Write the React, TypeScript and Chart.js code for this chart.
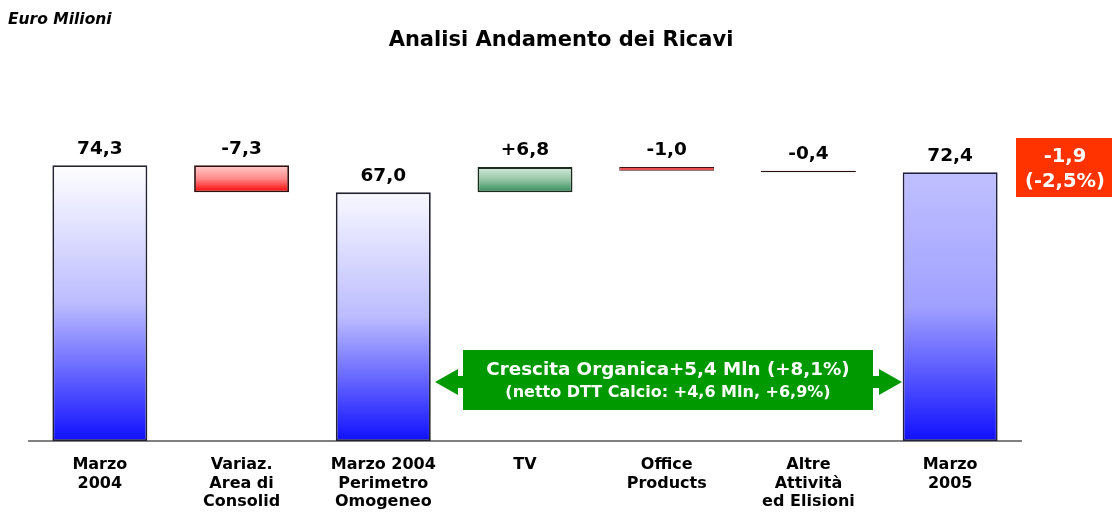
import React, { useEffect, useRef } from 'react';
import { Chart, registerables } from 'chart.js';

Chart.register(...registerables);

const categories: string[][] = [
  ['Marzo', '2004'],
  ['Variaz.', 'Area di', 'Consolid'],
  ['Marzo 2004', 'Perimetro', 'Omogeneo'],
  ['TV'],
  ['Office', 'Products'],
  ['Altre', 'Attività', 'ed Elisioni'],
  ['Marzo', '2005'],
];
const barStart = [0, 67.0, 0, 67.0, 72.8, 72.4, 0];
const barEnd = [74.3, 74.3, 67.0, 73.8, 73.8, 72.8, 72.4];
const valueLabels = ['74,3', '-7,3', '67,0', '+6,8', '-1,0', '-0,4', '72,4'];

const titleText = 'Analisi Andamento dei Ricavi';
const unitText = 'Euro Milioni';
const totalDeltaLines = ['-1,9', '(-2,5%)'];
const organicLines = ['Crescita Organica+5,4 Mln (+8,1%)', '(netto DTT Calcio: +4,6 Mln, +6,9%)'];

// styles
const gradTop = ['#ffffff', '#ffcccc', '#f8f8ff', '#d6eadd', '#e85050', '#7a0000', '#c0c0ff'];
const gradMid = ['#bcbcff', '#ff8a8a', '#bcbcff', '#94c6a6', '#e85050', '#7a0000', '#a0a0ff'];
const gradBot = ['#1010ff', '#ff0000', '#1010ff', '#2e8b57', '#e85050', '#7a0000', '#1010ff'];
const borderCols = ['#222230', '#301010', '#222230', '#1c2c1c', '#401414', '#2a1010', '#222240'];
const borderWidths = [1.8, 1.8, 1.8, 1.8, 0.9, 1.8, 1.8];

const FONT = '"DejaVu Sans", Verdana, sans-serif';

const overlayPlugin = {
  id: 'overlay',
  afterDatasetsDraw(chart: any) {
    const ctx: CanvasRenderingContext2D = chart.ctx;
    const meta = chart.getDatasetMeta(0);
    ctx.save();
    ctx.textAlign = 'center';
    ctx.textBaseline = 'middle';
    ctx.fillStyle = '#000';
    ctx.font = `bold 18.5px ${FONT}`;
    meta.data.forEach((el: any, i: number) => {
      const top = Math.min(el.y, el.base);
      ctx.fillText(valueLabels[i], el.x, top - 16.5);
    });

    // unit text
    ctx.textAlign = 'left';
    ctx.font = `italic bold 15.5px ${FONT}`;
    ctx.fillText(unitText, 8, 20);

    // title
    ctx.textAlign = 'center';
    ctx.font = `bold 21px ${FONT}`;
    ctx.fillText(titleText, 561, 41);

    // red delta box
    ctx.fillStyle = '#ff3300';
    ctx.fillRect(1016, 138, 96, 59);
    ctx.fillStyle = '#ffffff';
    ctx.font = `bold 19.5px ${FONT}`;
    ctx.fillText(totalDeltaLines[0], 1065, 157);
    ctx.fillText(totalDeltaLines[1], 1065, 182);

    // green organic growth box with arrows
    ctx.fillStyle = '#009900';
    ctx.fillRect(463, 350, 410, 60);
    ctx.beginPath();
    ctx.moveTo(435, 382);
    ctx.lineTo(458, 369);
    ctx.lineTo(458, 376);
    ctx.lineTo(464, 376);
    ctx.lineTo(464, 388);
    ctx.lineTo(458, 388);
    ctx.lineTo(458, 395);
    ctx.closePath();
    ctx.fill();
    ctx.beginPath();
    ctx.moveTo(902, 382);
    ctx.lineTo(879, 369);
    ctx.lineTo(879, 376);
    ctx.lineTo(872, 376);
    ctx.lineTo(872, 388);
    ctx.lineTo(879, 388);
    ctx.lineTo(879, 395);
    ctx.closePath();
    ctx.fill();
    ctx.fillStyle = '#ffffff';
    ctx.font = `bold 18.3px ${FONT}`;
    ctx.fillText(organicLines[0], 668, 370);
    ctx.font = `bold 16px ${FONT}`;
    ctx.fillText(organicLines[1], 668, 393);
    ctx.restore();
  },
};

export default function App() {
  const ref = useRef<HTMLCanvasElement | null>(null);
  useEffect(() => {
    if (!ref.current) return;
    const chart = new Chart(ref.current, {
      type: 'bar',
      data: {
        labels: categories,
        datasets: [
          {
            data: barStart.map((s, i) => [s, barEnd[i]]) as any,
            backgroundColor: (c: any) => {
              const i = c.dataIndex;
              const ch = c.chart;
              const ys = ch.scales && ch.scales.y;
              if (i === undefined || !ys || !ch.chartArea) return gradBot[i ?? 0];
              const top = ys.getPixelForValue(barEnd[i]);
              const bottom = ys.getPixelForValue(barStart[i]);
              if (!isFinite(top) || !isFinite(bottom) || bottom - top < 1) return gradBot[i];
              const g = ch.ctx.createLinearGradient(0, top, 0, bottom);
              g.addColorStop(0, gradTop[i]);
              g.addColorStop(0.5, gradMid[i]);
              g.addColorStop(1, gradBot[i]);
              return g;
            },
            borderColor: borderCols,
            borderWidth: borderWidths,
            borderSkipped: false,
            barPercentage: 0.67,
            categoryPercentage: 1,
          },
        ],
      },
      options: {
        responsive: false,
        animation: false,
        layout: { padding: { left: 29, right: 91, top: 107, bottom: 0 } },
        plugins: {
          legend: { display: false },
          tooltip: { enabled: false },
          title: { display: false },
        },
        scales: {
          y: { display: false, min: 0, max: 90 },
          x: {
            grid: { display: false, drawTicks: false },
            border: { display: true, color: '#808080', width: 2 },
            ticks: {
              color: '#000',
              font: { family: FONT, weight: 'bold', size: 16, lineHeight: 1.17 },
              padding: 14.5,
              maxRotation: 0,
              minRotation: 0,
              autoSkip: false,
            },
            afterFit: (s: any) => {
              s.height = 71;
            },
          },
        },
      },
      plugins: [overlayPlugin],
    });
    return () => chart.destroy();
  }, []);
  return (
    <div style={{ position: 'absolute', left: 0, top: 0, width: 1112, height: 512, background: '#fff' }}>
      <canvas ref={ref} width={1112} height={512} style={{ display: 'block' }} />
    </div>
  );
}
